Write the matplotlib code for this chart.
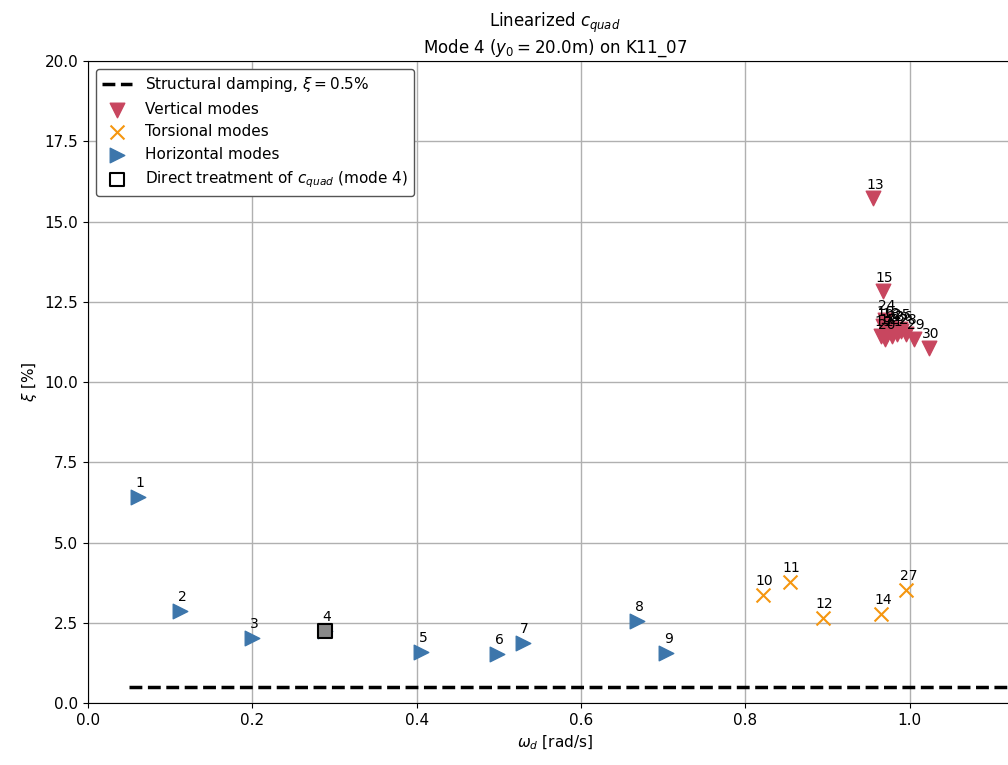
import matplotlib.pyplot as plt

# mode numbers and (omega_d [rad/s], xi [%])
horiz_modes = [1, 2, 3, 4, 5, 6, 7, 8, 9]
horiz_w = [0.061, 0.112, 0.200, 0.288, 0.405, 0.498, 0.529, 0.668, 0.704]
horiz_xi = [6.42, 2.87, 2.02, 2.24, 1.59, 1.53, 1.87, 2.55, 1.56]

tors_modes = [10, 11, 12, 14, 27]
tors_w = [0.821, 0.854, 0.894, 0.965, 0.996]
tors_xi = [3.36, 3.77, 2.65, 2.77, 3.52]

vert_modes = [13, 15, 16, 17, 18, 19, 20, 21, 22, 23, 24, 25, 26, 28, 29, 30]
vert_w = [0.955, 0.967, 0.968, 0.972, 0.975, 0.965, 0.970, 0.978, 0.985,
          0.980, 0.970, 0.988, 0.990, 0.995, 1.005, 1.023]
vert_xi = [15.73, 12.83, 11.75, 11.50, 11.70, 11.45, 11.35, 11.45, 11.50,
           11.60, 11.95, 11.65, 11.60, 11.50, 11.35, 11.06]

direct_mode = 4
direct_w = [0.288]
direct_xi = [2.24]

struct_xi = 0.5
struct_w = [0.05, 1.2]

fig = plt.figure(figsize=(10.08, 7.65), dpi=100)
ax = fig.add_axes([0.0873, 0.081, 0.926, 0.839])

ax.plot(struct_w, [struct_xi, struct_xi], 'k--', lw=2.5,
        label=r'Structural damping, $\xi = 0.5\%$', zorder=2)
ax.scatter(vert_w, vert_xi, marker='v', s=110, color='#c8465f',
           label='Vertical modes', zorder=3)
ax.scatter(tors_w, tors_xi, marker='x', s=100, color='#f5960f',
           linewidths=1.5, label='Torsional modes', zorder=3)
ax.scatter(horiz_w, horiz_xi, marker='>', s=110, color='#3d76ab',
           label='Horizontal modes', zorder=3)
ax.scatter(direct_w, direct_xi, marker='s', s=110, facecolors='#888888',
           edgecolors='k', linewidths=1.5, zorder=4)
ax.scatter([], [], marker='s', s=90, facecolors='none', edgecolors='k',
           linewidths=1.5, label=r'Direct treatment of $c_{quad}$ (mode 4)')

# mode numbers above each marker
for modes, ws, xis in [(horiz_modes, horiz_w, horiz_xi),
                       (tors_modes, tors_w, tors_xi),
                       (vert_modes, vert_w, vert_xi)]:
    for m, x, y in zip(modes, ws, xis):
        ax.annotate(str(m), (x, y), xytext=(1.5, 7), textcoords='offset points',
                    fontsize=10, ha='center')

ax.set_xlim(0, 1.136)
ax.set_ylim(0, 20)
ax.set_yticks([0, 2.5, 5, 7.5, 10, 12.5, 15, 17.5, 20])
ax.grid(True, color='#b0b0b0', lw=1)
ax.set_axisbelow(True)
ax.tick_params(labelsize=11)
ax.set_xlabel(r'$\omega_d$ [rad/s]', fontsize=11)
ax.set_ylabel(r'$\xi$ [%]', fontsize=11)
ax.set_title('Linearized $c_{quad}$\nMode 4 ($y_0 = 20.0$m) on K11_07',
             fontsize=12)
ax.legend(loc='upper left', fontsize=11, framealpha=1, edgecolor='#555555')

fig.savefig('out.png', dpi=100)
